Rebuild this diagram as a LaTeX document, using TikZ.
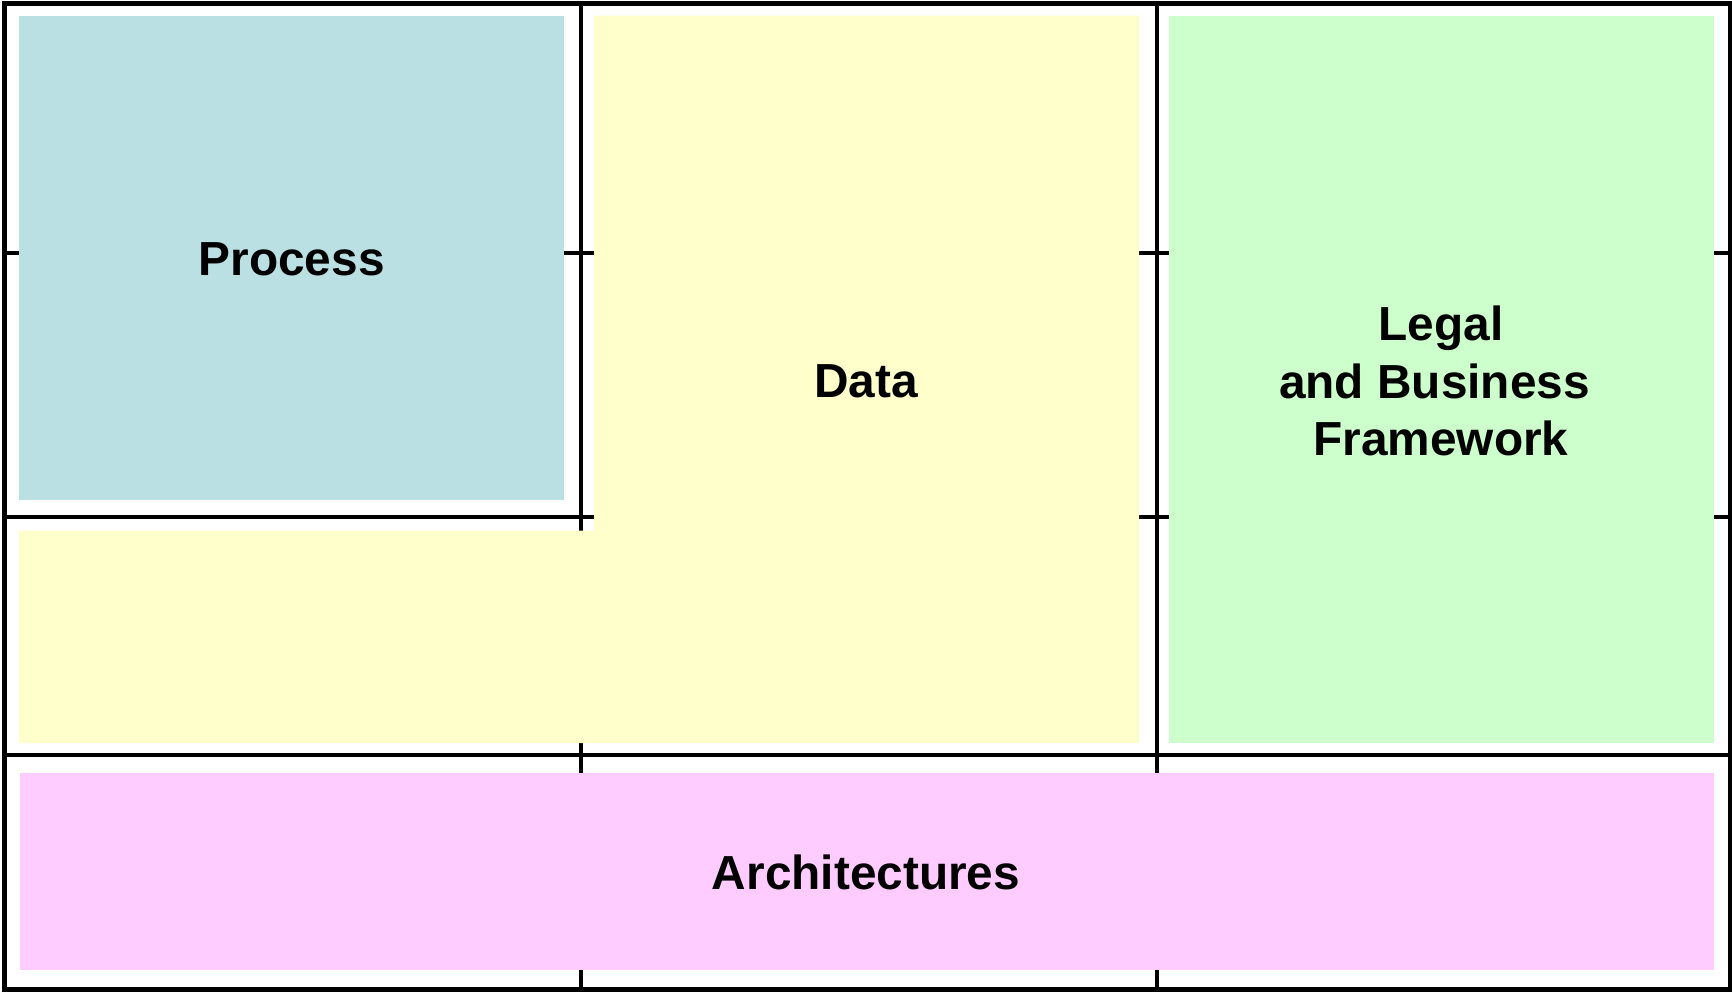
\documentclass[tikz,border=0pt]{standalone}
\usepackage{fontspec}
\setmainfont{Liberation Sans}
\definecolor{procblue}{HTML}{BBE0E3}
\definecolor{datayellow}{HTML}{FFFFCC}
\definecolor{legalgreen}{HTML}{CCFFCC}
\definecolor{archpink}{HTML}{FFCCFF}
\begin{document}
\begin{tikzpicture}[x=0.5pt,y=-0.5pt,
  gridline/.style={line width=1.6pt, draw=black},
  frameline/.style={line width=2.6pt, draw=black},
  lbl/.style={font=\bfseries\fontsize{23.9}{28.7}\selectfont, align=center, inner sep=0pt, text=black}]
\useasboundingbox (0,0) rectangle (1732,993);
% grid lines
\coordinate (h1l) at (4,253);   \coordinate (h1r) at (1730,253);
\coordinate (h2l) at (4,517);   \coordinate (h2r) at (1730,517);
\coordinate (h3l) at (4,755);   \coordinate (h3r) at (1730,755);
\coordinate (v1t) at (581,4);   \coordinate (v1b) at (581,989);
\coordinate (v2t) at (1157,4);  \coordinate (v2b) at (1157,989);
\draw[gridline] (h1l) -- (h1r);
\draw[gridline] (h2l) -- (h2r);
\draw[gridline] (h3l) -- (h3r);
\draw[gridline] (v1t) -- (v1b);
\draw[gridline] (v2t) -- (v2b);
% coloured areas
\fill[procblue] (19,15.7) rectangle (564,500);
\fill[datayellow] (594,15.7) -- (1139,15.7) -- (1139,743) -- (19,743) -- (19,530.7) -- (594,530.7) -- cycle;
\fill[legalgreen] (1169,15.7) rectangle (1714,743);
\fill[archpink] (20,772.7) rectangle (1714,970);
% frame
\draw[frameline] (4.2,3.8) rectangle (1730.5,989.5);
% labels
\node[lbl] (process) at (291.6,259) {Process};
\node[lbl] (data) at (866,381) {Data};
\node[lbl] (legal) at (1441,381) {Legal\\and Business\rule{6.5pt}{0pt}\\Framework};
\node[lbl] (arch) at (866,872.6) {Architectures};
\end{tikzpicture}
\end{document}
